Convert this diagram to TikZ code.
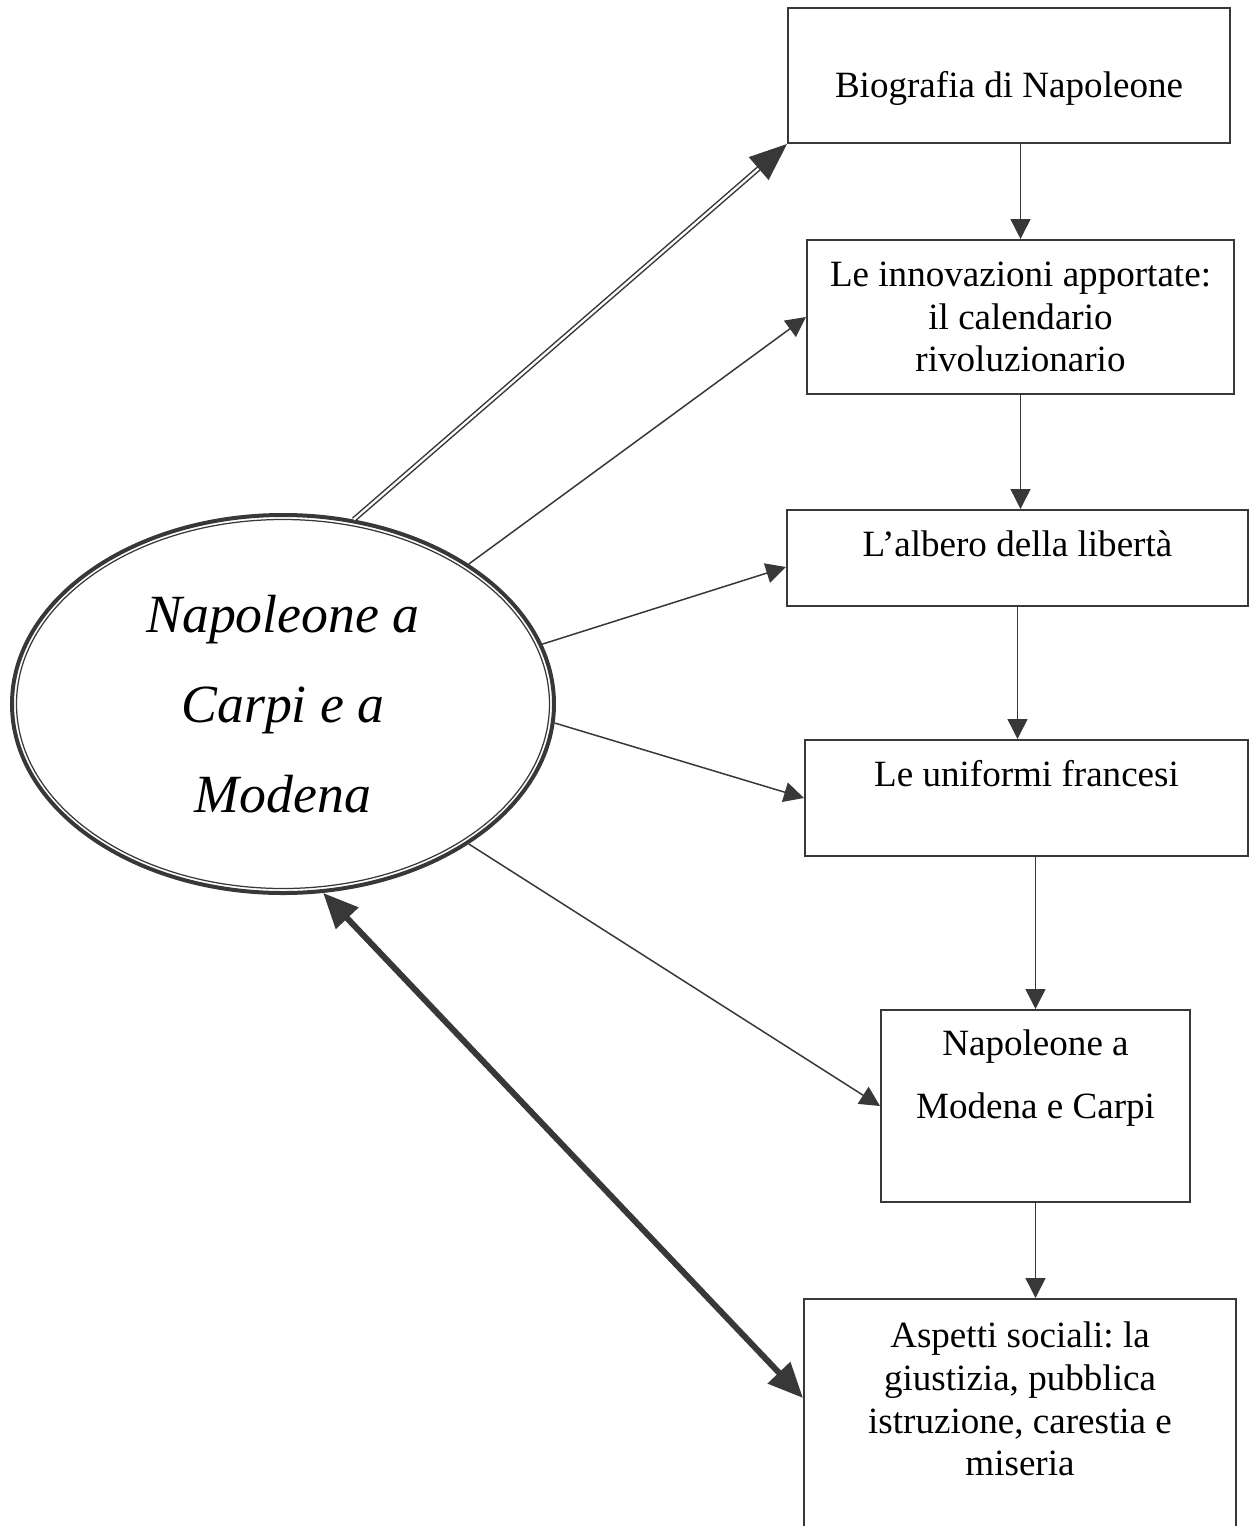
\documentclass[tikz,border=0pt]{standalone}
\usepackage{fontspec}
\setmainfont{Liberation Serif}
\usetikzlibrary{arrows.meta,shapes.geometric}
\definecolor{ink}{gray}{0.22}
\frenchspacing

\begin{document}
\begin{tikzpicture}[x = 0.2mm, y = -0.2mm,
        box/.style = {draw = ink, line width = 0.4mm, align = center, inner sep = 0pt,
                      font = \fontsize{21.1}{24.3}\selectfont},
        link/.style = {draw = ink, line width = 0.3mm, -{Triangle[length = 4mm, width = 4mm]}},
        dbl/.style = {draw = ink, line width = 0.3mm, double = white, double distance = 0.45mm,
                      -{Triangle[length = 7.5mm, width = 6mm]}},
        heavy/.style = {draw = ink, line width = 1.2mm,
                        {Triangle[length = 7mm, width = 6mm]}-{Triangle[length = 7mm, width = 6mm]}}]
            \useasboundingbox (0, 0) rectangle (1252, 1526);

            \node[ellipse, draw = ink, line width = 0.8mm, inner sep = 0pt, align = center,
                  minimum width = 108.4mm, minimum height = 75.6mm,
                  font = \itshape\fontsize{30.6}{51}\selectfont] (nap) at (283, 704)
                  {Napoleone a\\Carpi e a\\Modena};
            \draw[ink, line width = 0.25mm] (nap.center) ellipse [x radius = 53.3mm, y radius = 36.9mm];

            \node[box, minimum width = 88.4mm, minimum height = 27mm,
                  text height = 10mm, text depth = 1.4mm] (bio) at (1009, 75.5) {Biografia di Napoleone};
            \node[box, minimum width = 85.4mm, minimum height = 30.8mm] (cal) at (1020.5, 317)
                  {Le innovazioni apportate:\\il calendario\\rivoluzionario};
            \node[box, minimum width = 92.2mm, minimum height = 19.2mm,
                  text height = 3.6mm, text depth = 4.4mm] (alb) at (1017.5, 558) {L'albero della libertà};
            \node[box, minimum width = 88.6mm, minimum height = 23.2mm,
                  text height = 0.4mm, text depth = 5.2mm] (uni) at (1026.5, 798) {Le uniformi francesi};
            \node[box, minimum width = 61.8mm, minimum height = 38.4mm] (mod) at (1035.5, 1106)
                  {Napoleone a\\[11.6pt]Modena e Carpi\\[11.6pt]\mbox{}};
            \node[box, minimum width = 86.4mm, minimum height = 52.4mm] (soc) at (1020, 1430)
                  {Aspetti sociali: la\\giustizia, pubblica\\istruzione, carestia e\\miseria\\[3.9mm]\mbox{}};

            \draw[dbl] (nap.69) -- (bio.south west);
            \draw[link] (nap.37) -- (cal.west);
            \draw[link] (nap.13) -- ([yshift = -1.8mm]alb.west);
            \draw[link] (nap.-4) -- (uni.west);
            \draw[link] (nap.-37) -- (mod.west);
            \draw[heavy] (nap.-78) -- ([yshift = 6.4mm]soc.west);

            \draw[link] (cal.north |- bio.south) -- (cal.north);
            \draw[link] (cal.south) -- (cal.south |- alb.north);
            \draw[link] (alb.south) -- (alb.south |- uni.north);
            \draw[link] (mod.north |- uni.south) -- (mod.north);
            \draw[link] (mod.south) -- (mod.south |- soc.north);
        \end{tikzpicture}
\end{document}
